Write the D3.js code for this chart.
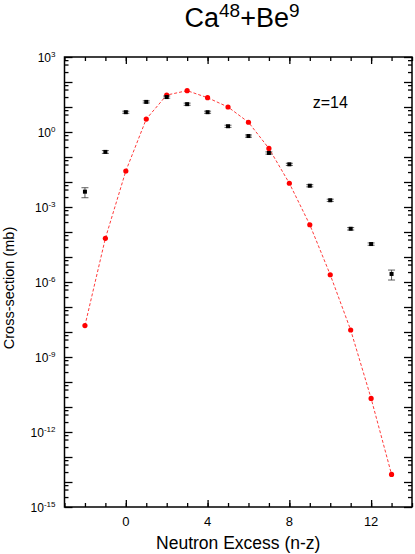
<!DOCTYPE html>
<meta charset="utf-8">
<style>
    body { margin: 0; background: #fff; }
    svg { font-family: "Liberation Sans", Arial, sans-serif; }
    .axis path { display: none; }
    .axis line { stroke: #000; stroke-width: 1.3px; }
    .model { fill: none; stroke: #ff3b3b; stroke-width: 1px; stroke-dasharray: 3,2; }
</style>
<svg width="415" height="554"></svg>
<script src="https://cdn.jsdelivr.net/npm/d3@7"></script>
<script>
    // neutron excess values
    var excess = [-2, -1, 0, 1, 2, 3, 4, 5, 6, 7, 8, 9, 10, 11, 12, 13];
    var measured = [4.1e-3, 0.16, 6.2, 16, 25, 13, 6.2, 1.7, 0.69, 0.145, 0.051, 7.1e-3, 1.86e-3, 1.35e-4, 3.3e-5, 2.1e-6];
    var errLow = [2.35e-3, 0.14, 5.6, 14.5, 22.5, 11.7, 5.6, 1.53, 0.62, 0.13, 0.046, 6.4e-3, 1.67e-3, 1.2e-4, 2.95e-5, 1.2e-6];
    var errHigh = [5.9e-3, 0.18, 6.8, 17.6, 27.5, 14.3, 6.8, 1.87, 0.76, 0.16, 0.056, 7.8e-3, 2.05e-3, 1.5e-4, 3.65e-5, 3.0e-6];
    // model calculation (mb)
    var model = [1.8e-8, 5.6e-5, 0.0275, 3.3, 30, 45, 23.5, 10, 2.45, 0.22, 8.9e-3, 1.95e-4, 1.95e-6, 1.2e-8, 2.2e-11, 2.0e-14];

    var xMajor = [0, 4, 8, 12];
    var yLabelExp = [3, 0, -3, -6, -9, -12, -15];

    var svgElem = d3.select('svg');
    var margin = { left: 64.5, top: 57, right: 3, bottom: 47 };
    var width = +svgElem.attr('width') - margin.left - margin.right;
    var height = +svgElem.attr('height') - margin.top - margin.bottom;
    var g = svgElem.append('g')
        .attr('transform', `translate(${margin.left}, ${margin.top})`);

    var x = d3.scaleLinear().domain([-3, 14]).range([0, width]);
    var y = d3.scaleLog().domain([1e-15, 1e3]).range([height, 0]);

    // tick positions
    var xMinor = d3.range(-3, 15);
    var yDecades = d3.range(-15, 4).map(function (e) { return Math.pow(10, e); });
    var yMinor = [];
    d3.range(-15, 3).forEach(function (e) {
        [2.5, 5, 7.5].forEach(function (m) { yMinor.push(m * Math.pow(10, e)); });
    });

    function ticks(axis, vals, size) {
        return axis.tickValues(vals).tickSize(size).tickFormat('');
    }

    // bottom / top
    g.append('g').attr('class', 'axis').attr('transform', `translate(0, ${height})`)
        .call(ticks(d3.axisBottom(x), xMinor, -4));
    g.append('g').attr('class', 'axis').attr('transform', `translate(0, ${height})`)
        .call(ticks(d3.axisBottom(x), xMajor, -7));
    g.append('g').attr('class', 'axis')
        .call(ticks(d3.axisTop(x), xMinor, -4));
    g.append('g').attr('class', 'axis')
        .call(ticks(d3.axisTop(x), xMajor, -7));
    // left / right
    g.append('g').attr('class', 'axis')
        .call(ticks(d3.axisLeft(y), yMinor, -4));
    g.append('g').attr('class', 'axis')
        .call(ticks(d3.axisLeft(y), yDecades, -8));
    g.append('g').attr('class', 'axis').attr('transform', `translate(${width}, 0)`)
        .call(ticks(d3.axisRight(y), yMinor, -4));
    g.append('g').attr('class', 'axis').attr('transform', `translate(${width}, 0)`)
        .call(ticks(d3.axisRight(y), yDecades, -8));

    g.append('rect')
        .attr('width', width).attr('height', height)
        .attr('fill', 'none').attr('stroke', '#000').attr('stroke-width', 1.5);

    // x tick labels
    g.selectAll('.xlab').data(xMajor).enter().append('text')
        .attr('x', function (d) { return x(d); })
        .attr('y', height + 19)
        .attr('text-anchor', 'middle')
        .attr('font-size', 13)
        .text(function (d) { return d; });

    // y tick labels 10^n
    var yl = g.selectAll('.ylab').data(yLabelExp).enter().append('text')
        .attr('x', -9)
        .attr('y', function (d) { return y(Math.pow(10, d)) + 5; })
        .attr('text-anchor', 'end')
        .attr('font-size', 12);
    yl.append('tspan').text('10');
    yl.append('tspan').attr('font-size', 8).attr('dy', -5).text(function (d) { return d; });

    // model line
    var line = d3.line()
        .x(function (d, i) { return x(excess[i]); })
        .y(function (d) { return y(d); });
    g.append('path').attr('class', 'model').attr('d', line(model));
    g.selectAll('.mdot').data(model).enter().append('circle')
        .attr('cx', function (d, i) { return x(excess[i]); })
        .attr('cy', function (d) { return y(d); })
        .attr('r', 2.6)
        .attr('fill', '#ff0000');

    // measured points with error bars
    var pts = g.selectAll('.pt').data(measured).enter().append('g')
        .attr('transform', function (d, i) { return `translate(${x(excess[i])}, 0)`; });
    pts.append('line')
        .attr('y1', function (d, i) { return y(errLow[i]); })
        .attr('y2', function (d, i) { return y(errHigh[i]); })
        .attr('stroke', '#333').attr('stroke-width', 0.8);
    pts.append('line')
        .attr('x1', -3.5).attr('x2', 3.5)
        .attr('y1', function (d, i) { return y(errLow[i]); })
        .attr('y2', function (d, i) { return y(errLow[i]); })
        .attr('stroke', '#333').attr('stroke-width', 0.8);
    pts.append('line')
        .attr('x1', -3.5).attr('x2', 3.5)
        .attr('y1', function (d, i) { return y(errHigh[i]); })
        .attr('y2', function (d, i) { return y(errHigh[i]); })
        .attr('stroke', '#333').attr('stroke-width', 0.8);
    pts.append('rect')
        .attr('x', -2).attr('width', 4).attr('height', 4)
        .attr('y', function (d) { return y(d) - 2; })
        .attr('fill', '#000');

    // annotation
    g.append('text')
        .attr('x', x(10)).attr('y', 51)
        .attr('text-anchor', 'middle')
        .attr('font-size', 16)
        .text('z=14');

    // title
    var title = svgElem.append('text')
        .attr('x', 242).attr('y', 27)
        .attr('text-anchor', 'middle')
        .attr('font-size', 27);
    title.append('tspan').text('Ca');
    title.append('tspan').attr('font-size', 19).attr('dy', -10).text('48');
    title.append('tspan').attr('dy', 10).text('+Be');
    title.append('tspan').attr('font-size', 19).attr('dy', -10).text('9');

    // axis titles
    svgElem.append('text')
        .attr('x', margin.left + width / 2).attr('y', 549)
        .attr('text-anchor', 'middle')
        .attr('font-size', 17.5)
        .text('Neutron Excess (n-z)');
    svgElem.append('text')
        .attr('transform', `translate(14, 288) rotate(-90)`)
        .attr('text-anchor', 'middle')
        .attr('font-size', 14.5)
        .text('Cross-section (mb)');
</script>
